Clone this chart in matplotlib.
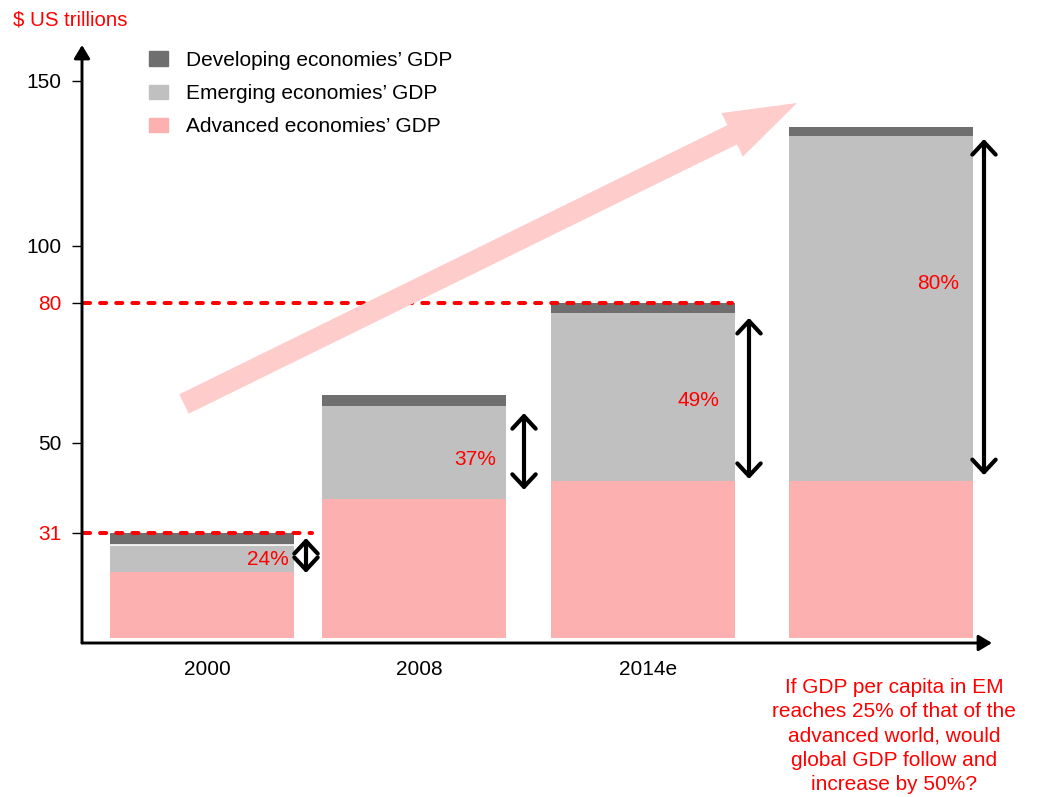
import numpy as np
import matplotlib
matplotlib.use("Agg")
import matplotlib.pyplot as plt
from matplotlib.patches import FancyArrowPatch, Patch

plt.rcParams['font.family'] = ['Liberation Sans', 'DejaVu Sans']

# data ($ US trillions)
years = ["2000", "2008", "2014e", ""]
advanced = np.array([19.5, 38.2, 42.0, 42.0])
emerging = np.array([8.0, 19.7, 35.9, 91.3])
developing = np.array([3.5, 2.4, 2.1, 2.8])
em_share = ["24%", "37%", "49%", "80%"]
ref_levels = [31, 80]
yticks = [31, 50, 80, 100, 150]

# layout
xpos = np.array([1.20, 3.32, 5.61, 7.99])
bar_w = 1.84
label_shift = 0.05
arrow_x = [2.24, 4.42, 6.67, 9.02]
arrow_lo = [19.2, 40.1, 42.4, 43.2]
arrow_hi = [29.5, 56.4, 76.8, 132.4]
pct_x = [2.07, 4.14, 6.37, 8.77]
pct_y = [23.3, 46.6, 59.0, 87.0]
ref_end = [2.30, 6.50]

C_ADV = "#fdb0b0"
C_EM = "#c0c0c0"
C_DEV = "#6f6f6f"

# the original chart uses an uneven value axis
kv = [-20, 0, 31, 50, 80, 100, 150, 200]
kh = [-20 * 105 / 31, 0, 105, 195, 335, 392, 557, 722]


def fwd(v):
    return np.interp(v, kv, kh)


def inv(h):
    return np.interp(h, kh, kv)


fig = plt.figure(figsize=(10.37, 7.97), dpi=100)
ax = fig.add_axes([82 / 1037, 154 / 797, 910 / 1037, 598 / 797])
ax.set_yscale('function', functions=(fwd, inv))
ax.set_ylim(-1.48, 160.9)
ax.set_xlim(0, 9.10)

ax.bar(xpos, advanced, bar_w, color=C_ADV)
ax.bar(xpos, emerging, bar_w, bottom=advanced, color=C_EM)
ax.bar(xpos, developing, bar_w, bottom=advanced + emerging, color=C_DEV)
# thin white seam under the 2000 developing block
ax.plot([xpos[0] - bar_w / 2, xpos[0] + bar_w / 2], [advanced[0] + emerging[0]] * 2,
        color="white", lw=1.2)

for lvl, xe in zip(ref_levels, ref_end):
    ax.plot([0.02, xe], [lvl, lvl], color="red", lw=2.9, ls=(0, (1.5, 2.5)),
            dash_capstyle="round", clip_on=False, zorder=3)

for xa, lo, hi in zip(arrow_x, arrow_lo, arrow_hi):
    ax.annotate("", xy=(xa, hi), xytext=(xa, lo),
                arrowprops=dict(arrowstyle="<->,head_length=0.45,head_width=0.42", lw=3,
                                color="black", mutation_scale=20, shrinkA=0, shrinkB=0))

for xt, yt, s in zip(pct_x, pct_y, em_share):
    ax.text(xt, yt, s, color="red", fontsize=15, ha="right", va="center")

# axes with arrows
for side in ["top", "right", "left", "bottom"]:
    ax.spines[side].set_visible(False)
for tip in [(0, 1), (1, 0)]:
    ax.annotate("", xy=tip, xytext=(0, 0), xycoords="axes fraction",
                arrowprops=dict(arrowstyle="-|>,head_length=0.5,head_width=0.3", lw=2.1,
                                color="black", mutation_scale=16, shrinkA=0, shrinkB=0))

ax.set_yticks(yticks)
ax.set_yticklabels([str(t) for t in yticks], fontsize=15)
for t, lab in zip(yticks, ax.get_yticklabels()):
    if t in ref_levels:
        lab.set_color("red")
ax.tick_params(axis="y", length=7, width=1, pad=8)
ax.set_xticks(xpos[:3] + label_shift)
ax.set_xticklabels(years[:3], fontsize=15)
ax.tick_params(axis="x", length=0, pad=12)
ax.minorticks_off()

# big growth arrow
big = FancyArrowPatch((184 / 1037, 1 - 404 / 797), (797 / 1037, 1 - 103 / 797),
                      transform=fig.transFigure,
                      arrowstyle="simple,head_length=52,head_width=35,tail_width=15.5",
                      mutation_scale=1, color="#ffcccc", lw=0, shrinkA=0, shrinkB=0, zorder=4)
fig.patches.append(big)

handles = [Patch(color=C_DEV), Patch(color=C_EM), Patch(color=C_ADV)]
labels = ["Developing economies\u2019 GDP", "Emerging economies\u2019 GDP",
          "Advanced economies\u2019 GDP"]
fig.legend(handles, labels, loc="upper left", bbox_to_anchor=(149 / 1037, 1 - 51 / 797),
           frameon=False, fontsize=15, handlelength=0.9, handleheight=0.7,
           handletextpad=0.9, labelspacing=0.68, borderpad=0, borderaxespad=0)

fig.text(13 / 1037, 1 - 20 / 797, "$ US trillions", color="red", fontsize=14.7,
         ha="left", va="center")
fig.text(894 / 1037, 1 - 736 / 797,
         "If GDP per capita in EM\nreaches 25% of that of the\nadvanced world, would\n"
         "global GDP follow and\nincrease by 50%?",
         color="red", fontsize=15, ha="center", va="center", linespacing=1.36)

fig.savefig("out.png", dpi=100)
